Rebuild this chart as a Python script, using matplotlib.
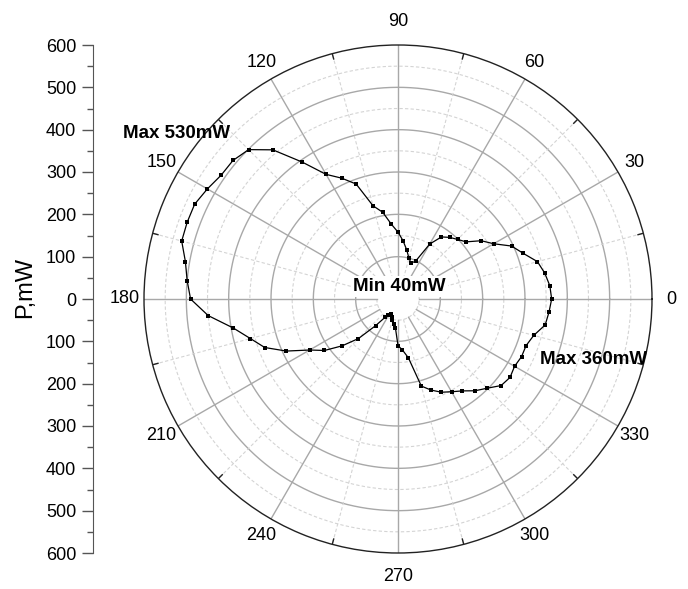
import numpy as np
import matplotlib.pyplot as plt

plt.rcParams['font.family'] = ['Liberation Sans', 'DejaVu Sans']

angle_deg = [0, 5, 10, 15, 20, 25, 30, 35, 40, 45, 50, 55, 60, 65, 70, 75,
             80, 85, 90, 95, 100, 105, 110, 115, 120, 125, 130, 135, 140, 145,
             150, 155, 160, 165, 170, 175, 180, 185, 190, 195, 200, 205, 210,
             215, 220, 225, 230, 235, 240, 245, 250, 255, 260, 265, 270, 275,
             280, 285, 290, 295, 300, 305, 310, 315, 320, 325, 330, 335, 340,
             345, 350, 355]
power_mw = [363, 360, 352, 341, 315, 296, 261, 240, 210, 199, 190, 179, 150,
            99, 90, 100, 118, 138, 158, 177, 208, 228, 289, 315, 340, 395, 460,
            499, 509, 510, 520, 530, 530, 529, 510, 500, 490, 450, 395, 361,
            335, 291, 241, 212, 172, 132, 82, 52, 45, 40, 44, 52, 61, 69, 110,
            121, 141, 213, 229, 243, 253, 265, 283, 298, 318, 323, 318, 322,
            322, 332, 353, 358]

angle_ticks = [0, 30, 60, 90, 120, 150, 180, 210, 240, 270, 300, 330]
r_ticks = [-600, -500, -400, -300, -200, -100, 0, 100, 200, 300, 400, 500, 600]
r_max = 600

W, H = 688, 589
fig = plt.figure(figsize=(W / 100, H / 100), dpi=100)

# polar panel: centre (398, 299) px, radius 254 px
cx, cy, rad = 398, 299, 254
ax = fig.add_axes([(cx - rad) / W, (H - cy - rad) / H, 2 * rad / W, 2 * rad / H],
                  projection='polar')
ax.set_ylim(0, r_max)
ax.grid(False)
ax.set_xticks([])
ax.set_yticks([])
ax.spines['polar'].set_linewidth(1.0)
ax.spines['polar'].set_color('#222222')

# circles
th = np.linspace(0, 2 * np.pi, 400)
for r in range(50, r_max, 50):
    if r % 100 == 0:
        ax.plot(th, np.full_like(th, r), color='#a8a8a8', lw=1.0, zorder=1)
    else:
        ax.plot(th, np.full_like(th, r), color='#d4d4d4', lw=0.8, ls=(0, (3, 2)), zorder=1)

# spokes
for a in range(0, 360, 15):
    t = np.deg2rad(a)
    if a % 30 == 0:
        ax.plot([t, t], [50, r_max], color='#a8a8a8', lw=1.0, zorder=1)
    else:
        ax.plot([t, t], [50, r_max], color='#d4d4d4', lw=0.8, ls=(0, (3, 2)), zorder=1)
        ax.plot([t, t], [r_max - 13, r_max], color='#222222', lw=1.0, zorder=2)

# data, closed loop
t_data = np.deg2rad(angle_deg + angle_deg[:1])
p_data = power_mw + power_mw[:1]
ax.plot(t_data, p_data, color='black', lw=0.9, marker='s', ms=2.4,
        mew=0, zorder=3)

# angle labels
for a in angle_ticks:
    rr = 655 if a in (90, 270) else 645
    ax.text(np.deg2rad(a), rr, str(a), ha='center', va='center',
            fontsize=13, clip_on=False)

# annotations
fig.text(177 / W, 1 - 133.5 / H, 'Max 530mW', ha='center', va='center',
         fontsize=13.5, fontweight='bold')
fig.text(399.5 / W, 1 - 286.5 / H, 'Min 40mW', ha='center', va='center',
         fontsize=13.5, fontweight='bold', zorder=5,
         bbox=dict(facecolor='white', edgecolor='none', pad=1.5))
fig.text(594 / W, 1 - 359.5 / H, 'Max 360mW', ha='center', va='center',
         fontsize=13.5, fontweight='bold')

# left linear scale
ax2 = fig.add_axes([93 / W, (H - cy - rad) / H, 0.0001, 2 * rad / H])
ax2.set_ylim(-r_max, r_max)
ax2.set_xticks([])
ax2.set_yticks(r_ticks)
ax2.set_yticklabels([str(abs(v)) for v in r_ticks])
ax2.set_yticks(list(range(-550, 600, 100)), minor=True)
for s in ['top', 'right', 'bottom']:
    ax2.spines[s].set_visible(False)
ax2.spines['left'].set_color('#555555')
ax2.patch.set_visible(False)
ax2.tick_params(axis='y', which='major', length=8, width=1, color='#555555',
                labelsize=13, pad=4)
ax2.tick_params(axis='y', which='minor', length=4, width=1, color='#555555')

fig.text(25 / W, 1 - 288 / H, 'P,mW', rotation=90, ha='center', va='center',
         fontsize=17)

fig.savefig('out.png', dpi=100)
